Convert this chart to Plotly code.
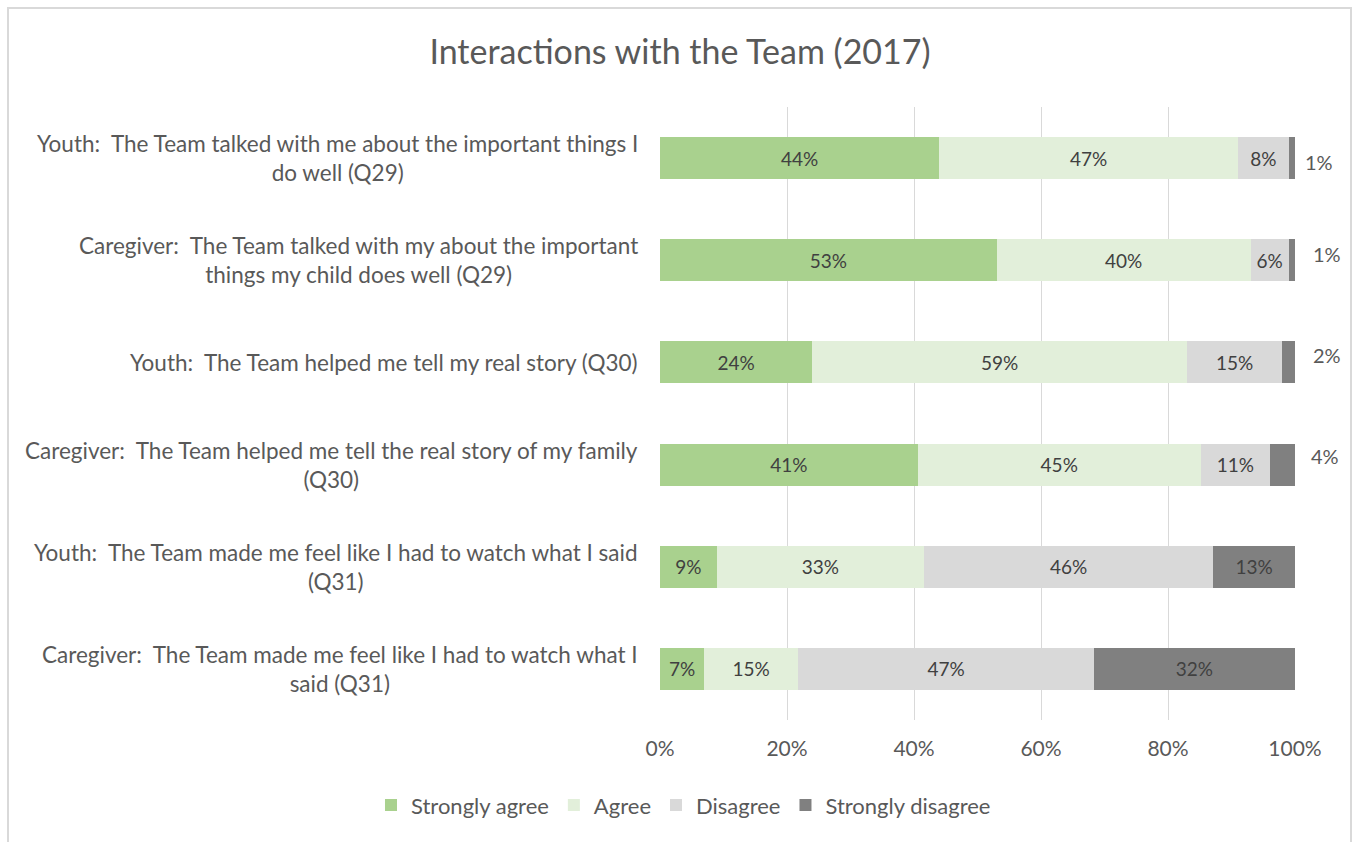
import plotly.graph_objects as go

# Survey items (top to bottom) and response shares in percent
questions = [
    "Youth:  The Team talked with me about the important things I<br>do well (Q29)",
    "Caregiver:  The Team talked with my about the important<br>things my child does well (Q29)",
    "Youth:  The Team helped me tell my real story (Q30)",
    "Caregiver:  The Team helped me tell the real story of my family<br>(Q30)",
    "Youth:  The Team made me feel like I had to watch what I said<br>(Q31)",
    "Caregiver:  The Team made me feel like I had to watch what I<br>said (Q31)",
]
strongly_agree = [44, 53, 24, 41, 9, 7]
agree = [47, 40, 59, 45, 33, 15]
disagree = [8, 6, 15, 11, 46, 47]
strongly_disagree = [1, 1, 2, 4, 13, 32]

series = [
    ("Strongly agree", strongly_agree, "#A9D18E"),
    ("Agree", agree, "#E2EFDA"),
    ("Disagree", disagree, "#D9D9D9"),
    ("Strongly disagree", strongly_disagree, "#808080"),
]

FONT = "Lato"
TXT = "#595959"

# thin segments get their label outside the bar, to the right
OUTSIDE_MAX = 4
outside_shift = [(24, -4), (32, 6), (32, 7), (30, 9)]

fig = go.Figure()
for name, vals, color in series:
    if name == "Strongly disagree":
        labels = ["" if v <= OUTSIDE_MAX else f"{v}%" for v in vals]
    else:
        labels = [f"{v}%" for v in vals]
    fig.add_trace(go.Bar(
        y=questions, x=vals, name=name, orientation="h",
        marker=dict(color=color, line=dict(width=0)),
        text=labels, textposition="inside", insidetextanchor="middle",
        textangle=0, constraintext="none",
        textfont=dict(family=FONT, size=19, color="#404040"),
        hoverinfo="skip",
    ))

annotations = []
# category labels, lines centred like the original axis labels
for q in questions:
    annotations.append(dict(
        x=-0.0315, xref="paper", xanchor="right", y=q, yref="y",
        text=q, showarrow=False, align="center",
        font=dict(family=FONT, size=22.5, color=TXT),
    ))
# outside labels for the thin "Strongly disagree" segments
k = 0
for q, v in zip(questions, strongly_disagree):
    if v <= OUTSIDE_MAX:
        dx, dy = outside_shift[k]
        k += 1
        annotations.append(dict(
            x=100, xref="x", y=q, yref="y", xanchor="center",
            text=f"{v}%", showarrow=False, xshift=dx, yshift=dy,
            font=dict(family=FONT, size=20, color=TXT),
        ))

fig.update_layout(
    width=1353, height=842,
    barmode="stack", barnorm="percent", bargap=0.59,
    paper_bgcolor="white", plot_bgcolor="white",
    margin=dict(l=660, r=58, t=107, b=122),
    title=dict(
        text="Interactions with the Team (2017)",
        x=680 / 1353, xref="container", xanchor="center",
        y=1 - 52 / 842, yref="container", yanchor="middle",
        font=dict(family=FONT, size=34, color=TXT),
    ),
    xaxis=dict(
        range=[0, 100], dtick=20, ticksuffix="%",
        showgrid=True, gridcolor="#D9D9D9", gridwidth=1,
        zeroline=False, showline=False, ticks="",
        ticklabelstandoff=14,
        tickfont=dict(family=FONT, size=21, color=TXT),
        fixedrange=True,
    ),
    yaxis=dict(
        autorange="reversed", showticklabels=False, showgrid=False,
        zeroline=False, showline=False, ticks="", fixedrange=True,
    ),
    legend=dict(
        orientation="h", x=0.037, xanchor="center", y=-0.139, yanchor="middle",
        font=dict(family=FONT, size=22, color=TXT),
        traceorder="normal", itemwidth=30,
    ),
    annotations=annotations,
    shapes=[dict(
        type="rect", xref="paper", yref="paper",
        x0=(8 - 660) / 635, x1=(1351 - 660) / 635,
        y0=(720 - 850) / 613, y1=(720 - 8) / 613,
        line=dict(color="#D9D9D9", width=2), fillcolor="rgba(0,0,0,0)",
        layer="below",
    )],
    showlegend=True,
)

fig.write_html("out.html")
